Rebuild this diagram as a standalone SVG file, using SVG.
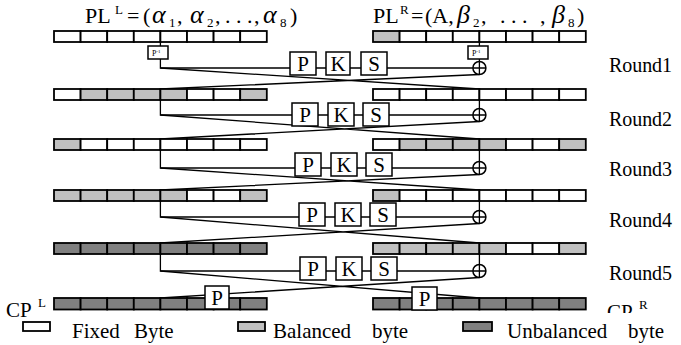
<svg xmlns="http://www.w3.org/2000/svg" width="681" height="345" viewBox="0 0 681 345" font-family="'Liberation Serif', 'Times New Roman', 'DejaVu Serif', serif">
<style>
text{font-family:'Liberation Serif','Times New Roman','DejaVu Serif',serif;fill:#000}
.c{stroke:#000;stroke-width:1.8}
.w{fill:#fff}.g{fill:#c0c0c0}.d{fill:#808080}
.box{fill:#fff;stroke:#000;stroke-width:1.5}
.ln{fill:none;stroke:#000;stroke-width:1.3}
.bt{font-size:21px;text-anchor:middle}
.rl{font-size:20px}
.lg{font-size:21px}
.m{font-style:italic;font-size:26px}
.sb{font-size:13px}
</style>
<defs>
<clipPath id="cpclip"><rect x="590" y="290" width="91" height="23"/></clipPath>
</defs>

<g id="titles">
<text y="23" font-size="22"><tspan x="85">PL</tspan><tspan x="115" y="14" class="sb">L</tspan><tspan x="127" y="23">=</tspan><tspan x="143" y="23">(</tspan><tspan x="152" y="23" class="m">α</tspan><tspan x="169" y="27" class="sb">1</tspan><tspan x="177" y="23">,</tspan><tspan x="190" y="23" class="m">α</tspan><tspan x="207" y="27" class="sb">2</tspan><tspan x="215" y="23">,</tspan><tspan x="225" y="23">. . .</tspan><tspan x="254" y="23">,</tspan><tspan x="263" y="23" class="m">α</tspan><tspan x="280" y="27" class="sb">8</tspan><tspan x="290" y="23">)</tspan></text>
<text y="23" font-size="22"><tspan x="373">PL</tspan><tspan x="400" y="14" class="sb">R</tspan><tspan x="411" y="23">=</tspan><tspan x="425" y="23">(A,</tspan><tspan x="457" y="23" class="m">β</tspan><tspan x="473" y="27" class="sb">2</tspan><tspan x="481" y="23">,</tspan><tspan x="500" y="23">. . .</tspan><tspan x="540" y="23">,</tspan><tspan x="552" y="23" class="m">β</tspan><tspan x="568" y="27" class="sb">8</tspan><tspan x="577" y="23">)</tspan></text>
</g>

<g id="connectors" class="ln">
<path d="M160.4,42V68H290M316,68H326M350,68H361M387,68H472.9M479.4,42V61.5"/>
<path d="M160.4,68L479.4,89M479.4,74.5L160.4,89"/>
<path d="M160.4,100V115H292M318,115H328M354,115H363M389,115H472.9M479.4,100V108.5"/>
<path d="M160.4,115L479.4,139M479.4,121.5L160.4,139"/>
<path d="M160.4,150V168H295M321,168H331M357,168H366M392,168H472.9M479.4,150V161.5"/>
<path d="M160.4,168L479.4,190M479.4,174.5L160.4,190"/>
<path d="M160.4,201V217H299M325,217H335M361,217H370M396,217H472.9M479.4,201V210.5"/>
<path d="M160.4,217L479.4,243M479.4,223.5L160.4,243"/>
<path d="M160.4,254V271H300M326,271H336M362,271H371M397,271H472.9M479.4,254V264.5"/>
<path d="M160.4,271L479.4,298M479.4,277.5L160.4,298"/>
</g>

<g id="xor1"><circle cx="479.4" cy="68" r="6.5" class="box"/><path class="ln" d="M472.9,68H485.9M479.4,61.5V74.5"/></g>
<g id="xor2"><circle cx="479.4" cy="115" r="6.5" class="box"/><path class="ln" d="M472.9,115H485.9M479.4,108.5V121.5"/></g>
<g id="xor3"><circle cx="479.4" cy="168" r="6.5" class="box"/><path class="ln" d="M472.9,168H485.9M479.4,161.5V174.5"/></g>
<g id="xor4"><circle cx="479.4" cy="217" r="6.5" class="box"/><path class="ln" d="M472.9,217H485.9M479.4,210.5V223.5"/></g>
<g id="xor5"><circle cx="479.4" cy="271" r="6.5" class="box"/><path class="ln" d="M472.9,271H485.9M479.4,264.5V277.5"/></g>

<g id="row0L" class="c"><rect x="54" y="31" width="26.6" height="11" class="w"/><rect x="80.6" y="31" width="26.6" height="11" class="w"/><rect x="107.2" y="31" width="26.6" height="11" class="w"/><rect x="133.8" y="31" width="26.6" height="11" class="w"/><rect x="160.4" y="31" width="26.6" height="11" class="w"/><rect x="187" y="31" width="26.6" height="11" class="w"/><rect x="213.6" y="31" width="26.6" height="11" class="w"/><rect x="240.2" y="31" width="26.6" height="11" class="w"/></g>
<g id="row0R" class="c"><rect x="373" y="31" width="26.6" height="11" class="g"/><rect x="399.6" y="31" width="26.6" height="11" class="w"/><rect x="426.2" y="31" width="26.6" height="11" class="w"/><rect x="452.8" y="31" width="26.6" height="11" class="w"/><rect x="479.4" y="31" width="26.6" height="11" class="w"/><rect x="506" y="31" width="26.6" height="11" class="w"/><rect x="532.6" y="31" width="26.6" height="11" class="w"/><rect x="559.2" y="31" width="26.6" height="11" class="w"/></g>

<g id="row1L" class="c"><rect x="54" y="89" width="26.6" height="11" class="w"/><rect x="80.6" y="89" width="26.6" height="11" class="g"/><rect x="107.2" y="89" width="26.6" height="11" class="g"/><rect x="133.8" y="89" width="26.6" height="11" class="g"/><rect x="160.4" y="89" width="26.6" height="11" class="g"/><rect x="187" y="89" width="26.6" height="11" class="w"/><rect x="213.6" y="89" width="26.6" height="11" class="w"/><rect x="240.2" y="89" width="26.6" height="11" class="g"/></g>
<g id="row1R" class="c"><rect x="373" y="89" width="26.6" height="11" class="w"/><rect x="399.6" y="89" width="26.6" height="11" class="w"/><rect x="426.2" y="89" width="26.6" height="11" class="w"/><rect x="452.8" y="89" width="26.6" height="11" class="w"/><rect x="479.4" y="89" width="26.6" height="11" class="w"/><rect x="506" y="89" width="26.6" height="11" class="w"/><rect x="532.6" y="89" width="26.6" height="11" class="w"/><rect x="559.2" y="89" width="26.6" height="11" class="w"/></g>

<g id="row2L" class="c"><rect x="54" y="139" width="26.6" height="11" class="g"/><rect x="80.6" y="139" width="26.6" height="11" class="w"/><rect x="107.2" y="139" width="26.6" height="11" class="w"/><rect x="133.8" y="139" width="26.6" height="11" class="w"/><rect x="160.4" y="139" width="26.6" height="11" class="w"/><rect x="187" y="139" width="26.6" height="11" class="w"/><rect x="213.6" y="139" width="26.6" height="11" class="w"/><rect x="240.2" y="139" width="26.6" height="11" class="w"/></g>
<g id="row2R" class="c"><rect x="373" y="139" width="26.6" height="11" class="w"/><rect x="399.6" y="139" width="26.6" height="11" class="g"/><rect x="426.2" y="139" width="26.6" height="11" class="g"/><rect x="452.8" y="139" width="26.6" height="11" class="g"/><rect x="479.4" y="139" width="26.6" height="11" class="g"/><rect x="506" y="139" width="26.6" height="11" class="w"/><rect x="532.6" y="139" width="26.6" height="11" class="w"/><rect x="559.2" y="139" width="26.6" height="11" class="g"/></g>

<g id="row3L" class="c"><rect x="54" y="190" width="26.6" height="11" class="g"/><rect x="80.6" y="190" width="26.6" height="11" class="g"/><rect x="107.2" y="190" width="26.6" height="11" class="g"/><rect x="133.8" y="190" width="26.6" height="11" class="g"/><rect x="160.4" y="190" width="26.6" height="11" class="g"/><rect x="187" y="190" width="26.6" height="11" class="w"/><rect x="213.6" y="190" width="26.6" height="11" class="w"/><rect x="240.2" y="190" width="26.6" height="11" class="g"/></g>
<g id="row3R" class="c"><rect x="373" y="190" width="26.6" height="11" class="g"/><rect x="399.6" y="190" width="26.6" height="11" class="w"/><rect x="426.2" y="190" width="26.6" height="11" class="w"/><rect x="452.8" y="190" width="26.6" height="11" class="w"/><rect x="479.4" y="190" width="26.6" height="11" class="w"/><rect x="506" y="190" width="26.6" height="11" class="w"/><rect x="532.6" y="190" width="26.6" height="11" class="w"/><rect x="559.2" y="190" width="26.6" height="11" class="w"/></g>

<g id="row4L" class="c"><rect x="54" y="243" width="26.6" height="11" class="d"/><rect x="80.6" y="243" width="26.6" height="11" class="d"/><rect x="107.2" y="243" width="26.6" height="11" class="d"/><rect x="133.8" y="243" width="26.6" height="11" class="d"/><rect x="160.4" y="243" width="26.6" height="11" class="d"/><rect x="187" y="243" width="26.6" height="11" class="d"/><rect x="213.6" y="243" width="26.6" height="11" class="d"/><rect x="240.2" y="243" width="26.6" height="11" class="d"/></g>
<g id="row4R" class="c"><rect x="373" y="243" width="26.6" height="11" class="g"/><rect x="399.6" y="243" width="26.6" height="11" class="g"/><rect x="426.2" y="243" width="26.6" height="11" class="g"/><rect x="452.8" y="243" width="26.6" height="11" class="g"/><rect x="479.4" y="243" width="26.6" height="11" class="g"/><rect x="506" y="243" width="26.6" height="11" class="w"/><rect x="532.6" y="243" width="26.6" height="11" class="w"/><rect x="559.2" y="243" width="26.6" height="11" class="g"/></g>

<g id="row5L" class="c"><rect x="54" y="298" width="26.6" height="11.5" class="d"/><rect x="80.6" y="298" width="26.6" height="11.5" class="d"/><rect x="107.2" y="298" width="26.6" height="11.5" class="d"/><rect x="133.8" y="298" width="26.6" height="11.5" class="d"/><rect x="160.4" y="298" width="26.6" height="11.5" class="d"/><rect x="187" y="298" width="26.6" height="11.5" class="d"/><rect x="213.6" y="298" width="26.6" height="11.5" class="d"/><rect x="240.2" y="298" width="26.6" height="11.5" class="d"/></g>
<g id="row5R" class="c"><rect x="373" y="298" width="26.6" height="11.5" class="d"/><rect x="399.6" y="298" width="26.6" height="11.5" class="d"/><rect x="426.2" y="298" width="26.6" height="11.5" class="d"/><rect x="452.8" y="298" width="26.6" height="11.5" class="d"/><rect x="479.4" y="298" width="26.6" height="11.5" class="d"/><rect x="506" y="298" width="26.6" height="11.5" class="d"/><rect x="532.6" y="298" width="26.6" height="11.5" class="d"/><rect x="559.2" y="298" width="26.6" height="11.5" class="d"/></g>

<g id="pinvL"><rect x="148" y="46" width="20" height="13" class="box"/><text x="152" y="56" font-size="8">P<tspan font-size="5" dy="-3">-1</tspan></text></g>
<g id="pinvR"><rect x="468" y="46" width="20" height="13" class="box"/><text x="472" y="56" font-size="8">P<tspan font-size="5" dy="-3">-1</tspan></text></g>

<g id="r1P"><rect x="290" y="52" width="26" height="23" class="box"/><text x="303" y="71" class="bt">P</text></g>
<g id="r1K"><rect x="326" y="52" width="24" height="23" class="box"/><text x="338" y="71" class="bt">K</text></g>
<g id="r1S"><rect x="361" y="52" width="26" height="23" class="box"/><text x="374" y="71" class="bt">S</text></g>

<g id="r2P"><rect x="292" y="103" width="26" height="23" class="box"/><text x="305" y="122" class="bt">P</text></g>
<g id="r2K"><rect x="328" y="103" width="26" height="23" class="box"/><text x="341" y="122" class="bt">K</text></g>
<g id="r2S"><rect x="363" y="103" width="26" height="23" class="box"/><text x="376" y="122" class="bt">S</text></g>

<g id="r3P"><rect x="295" y="153" width="26" height="23" class="box"/><text x="308" y="172" class="bt">P</text></g>
<g id="r3K"><rect x="331" y="153" width="26" height="23" class="box"/><text x="344" y="172" class="bt">K</text></g>
<g id="r3S"><rect x="366" y="153" width="26" height="23" class="box"/><text x="379" y="172" class="bt">S</text></g>

<g id="r4P"><rect x="299" y="203" width="26" height="23" class="box"/><text x="312" y="222" class="bt">P</text></g>
<g id="r4K"><rect x="335" y="203" width="26" height="23" class="box"/><text x="348" y="222" class="bt">K</text></g>
<g id="r4S"><rect x="370" y="203" width="26" height="23" class="box"/><text x="383" y="222" class="bt">S</text></g>

<g id="r5P"><rect x="300" y="257" width="26" height="23" class="box"/><text x="313" y="276" class="bt">P</text></g>
<g id="r5K"><rect x="336" y="257" width="26" height="23" class="box"/><text x="349" y="276" class="bt">K</text></g>
<g id="r5S"><rect x="371" y="257" width="26" height="23" class="box"/><text x="384" y="276" class="bt">S</text></g>

<g id="fPL"><rect x="205" y="286" width="24" height="23" class="box"/><text x="217" y="305" class="bt">P</text></g>
<g id="fPR"><rect x="412" y="287" width="25" height="23" class="box"/><text x="424.5" y="306" class="bt">P</text></g>

<g id="rounds">
<text x="609" y="72" class="rl" textLength="63">Round1</text>
<text x="609" y="126" class="rl" textLength="63">Round2</text>
<text x="609" y="176" class="rl" textLength="63">Round3</text>
<text x="609" y="227" class="rl" textLength="63">Round4</text>
<text x="609" y="280" class="rl" textLength="63">Round5</text>
</g>

<g id="cpL"><text x="6" y="317" class="lg">CP</text><text x="38" y="307" class="sb">L</text></g>
<g id="cpR" clip-path="url(#cpclip)"><text x="607" y="319" class="lg">CP</text><text x="639" y="309" class="sb">R</text></g>

<g id="legend">
<rect x="23" y="322" width="27" height="9" class="w c"/><text x="72" y="338" class="lg">Fixed</text><text x="134" y="338" class="lg">Byte</text>
<rect x="238" y="322" width="27" height="9" class="g c"/><text x="273" y="338" class="lg">Balanced</text><text x="372" y="338" class="lg">byte</text>
<rect x="463" y="322" width="29" height="9" class="d c"/><text x="507" y="338" class="lg">Unbalanced</text><text x="628" y="338" class="lg">byte</text>
</g>
</svg>
